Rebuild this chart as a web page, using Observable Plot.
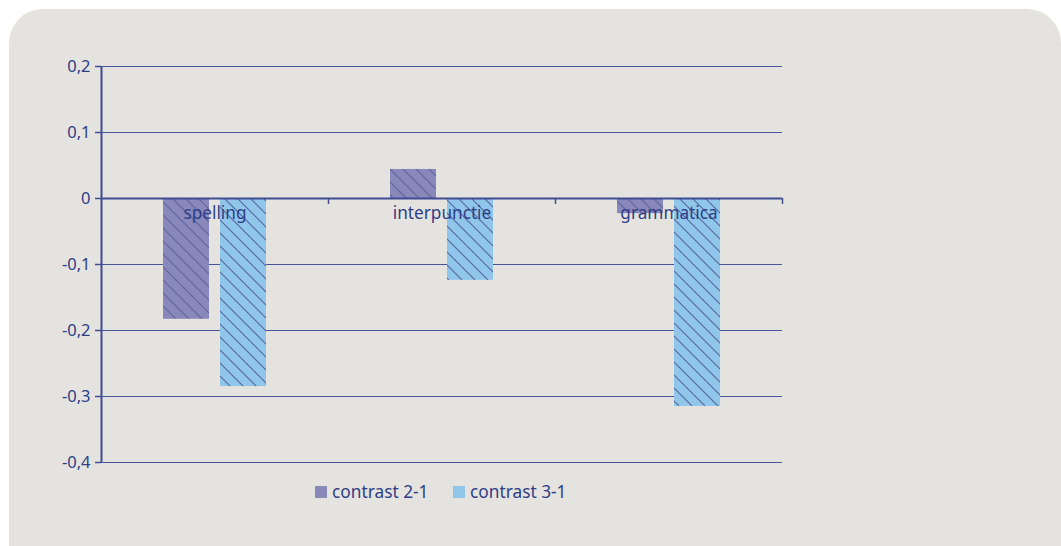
<!DOCTYPE html>
<html><head><meta charset="utf-8">
<script src="https://cdn.jsdelivr.net/npm/d3@7"></script>
<script src="https://cdn.jsdelivr.net/npm/@observablehq/plot@0.6"></script>
<style>
body{margin:0;background:#fff;overflow:hidden;}
#wrap{position:relative;width:1061px;height:546px;overflow:hidden;}
#card{position:absolute;left:9px;top:9px;width:1052px;height:620px;background:#e4e3df;border-radius:34px;}
#chart{position:absolute;left:0;top:0;}
#legend{position:absolute;top:480px;left:315px;font-family:"Noto Sans",sans-serif;font-size:17.3px;color:#2f3e87;white-space:nowrap;}
#legend span.item{position:absolute;top:0;display:flex;align-items:center;}
#legend i{display:inline-block;width:12px;height:12px;margin-right:5px;}
</style></head>
<body>
<div id="wrap"><div id="card"></div><div id="chart"></div><div id="legend"></div></div>
<script>
const categories = ["spelling", "interpunctie", "grammatica"];
const series = ["contrast 2-1", "contrast 3-1"];
const contrast21 = [-0.183, 0.044, -0.023];
const contrast31 = [-0.285, -0.124, -0.315];
const yTicks = [-0.4, -0.3, -0.2, -0.1, 0, 0.1, 0.2];
const seriesColors = ["#8888ba", "#8fc6ea"];

const W = 1061, H = 546, ML = 101, MR = 279, MT = 66, MB = 84;
const bw = (W - ML - MR) / categories.length;
const navy = "#2f3e87";
const gridColor = "#3f4c93";

const rows21 = categories.map((c, i) => ({category: c, value: contrast21[i]}));
const rows31 = categories.map((c, i) => ({category: c, value: contrast31[i]}));
const fmt = d => d === 0 ? "0" : d.toFixed(1).replace(".", ",");

const plot = Plot.plot({
  width: W, height: H,
  marginLeft: ML, marginRight: MR, marginTop: MT, marginBottom: MB,
  style: {background: "transparent", fontFamily: "Noto Sans, sans-serif", fontSize: "16px", color: navy, overflow: "visible"},
  x: {domain: categories, padding: 0, axis: null},
  y: {domain: [-0.4, 0.2], axis: null},
  marks: [
    Plot.ruleY(yTicks.filter(d => d !== 0), {stroke: gridColor, strokeWidth: 1.2, strokeOpacity: 0.95}),
    Plot.barY(rows21, {x: "category", y: "value", fill: "url(#hatch21)", insetLeft: 62, insetRight: bw - 108}),
    Plot.barY(rows31, {x: "category", y: "value", fill: "url(#hatch31)", insetLeft: 119, insetRight: bw - 165}),
    Plot.ruleY([0], {stroke: gridColor, strokeWidth: 2.2}),
    Plot.ruleX(categories, {x: d => d, dx: bw / 2, y1: 0, y2: -0.009, stroke: gridColor, strokeWidth: 1.5}),
    Plot.ruleX([categories[0]], {x: d => d, dx: -bw / 2, y1: -0.4, y2: 0.2, stroke: gridColor, strokeWidth: 2}),
    Plot.axisY({ticks: yTicks, tickFormat: fmt, label: null, tickSize: 6, tickPadding: 5, stroke: gridColor, strokeWidth: 1.5, fill: navy, fontSize: 16.5}),
    Plot.text(categories, {x: d => d, y: 0, dy: 15, text: d => d, fill: navy, fontSize: 17.2})
  ]
});

const svg = d3.select(plot);
const defs = svg.insert("defs", ":first-child");
function hatch(id, base, line) {
  const s = 13;
  const p = defs.append("pattern").attr("id", id).attr("patternUnits", "userSpaceOnUse")
    .attr("width", s).attr("height", s);
  p.append("rect").attr("width", s).attr("height", s).attr("fill", base);
  p.append("path").attr("d", `M0,0L${s},${s}M${-s/2},${s/2}L${s/2},${s*1.5}M${s/2},${-s/2}L${s*1.5},${s/2}`)
    .attr("stroke", line).attr("stroke-width", 1.1).attr("fill", "none");
}
hatch("hatch21", seriesColors[0], "#5f639f");
hatch("hatch31", seriesColors[1], "#5564a0");
document.getElementById("chart").appendChild(plot);

const legend = document.getElementById("legend");
const offsets = [0, 138];
series.forEach((s, i) => {
  const item = document.createElement("span");
  item.className = "item";
  item.style.left = offsets[i] + "px";
  item.innerHTML = `<i style="background:${seriesColors[i]}"></i>${s}`;
  legend.appendChild(item);
});
</script>
</body></html>
